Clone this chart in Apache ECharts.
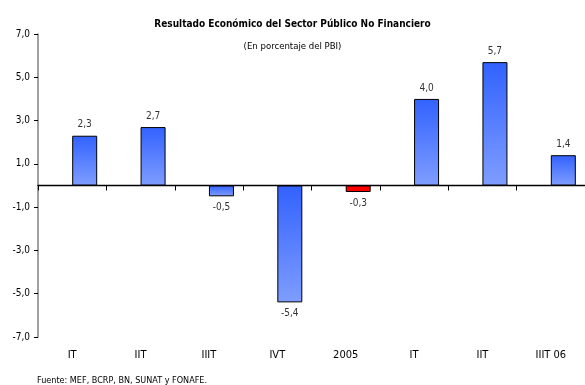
<!DOCTYPE html>
<html>
<head>
<meta charset="utf-8">
<script src="https://cdn.jsdelivr.net/npm/echarts@6/dist/echarts.min.js"></script>
<style>
  html, body { margin: 0; padding: 0; background: #fff; }
  #chart { width: 585px; height: 385px; }
</style>
</head>
<body>
<div id="chart"></div>
<script>
// Quarterly fiscal result of the non-financial public sector (% of GDP)
const categories = ['IT', 'IIT', 'IIIT', 'IVT', '2005', 'IT', 'IIT', 'IIIT 06'];
const values = [2.3, 2.7, -0.5, -5.4, -0.3, 4.0, 5.7, 1.4];
const highlightIndex = 4; // annual 2005 figure, drawn in red
const yTicks = { min: -7, max: 7, interval: 2 };

const FONT = "'Liberation Sans Narrow', 'DejaVu Sans Condensed', 'Liberation Sans', sans-serif";
const fmt = v => v.toFixed(1).replace('.', ',');

const blueFill = new echarts.graphic.LinearGradient(0, 0, 0, 1, [
  { offset: 0, color: '#3262ff' },
  { offset: 1, color: '#7f9dff' }
]);
const redFill = '#ff0000';

const chart = echarts.init(document.getElementById('chart'), null, { renderer: 'canvas' });

chart.setOption({
  animation: false,
  textStyle: { fontFamily: FONT },
  title: [
    {
      text: 'Resultado Económico del Sector Público No Financiero',
      left: 'center', top: 14,
      textStyle: { fontFamily: FONT, fontSize: 10, fontWeight: 'bold', color: '#000' }
    },
    {
      text: '(En porcentaje del PBI)',
      left: 'center', top: 37,
      textStyle: { fontFamily: FONT, fontSize: 9.5, fontWeight: 'normal', color: '#000' }
    },
    {
      text: 'Fuente: MEF, BCRP, BN, SUNAT y FONAFE.',
      left: 32, top: 371,
      textStyle: { fontFamily: FONT, fontSize: 9, fontWeight: 'normal', color: '#000' }
    }
  ],
  grid: { left: 38, right: 0, top: 34, bottom: 48, containLabel: false },
  xAxis: [
    {
      type: 'category',
      data: categories,
      axisLine: { onZero: true, lineStyle: { color: '#000', width: 1.3 } },
      axisTick: { show: true, length: 5, lineStyle: { color: '#000' } },
      axisLabel: { show: false },
      splitLine: { show: false }
    },
    {
      type: 'category',
      data: categories,
      position: 'bottom',
      axisLine: { show: false, onZero: false },
      axisTick: { show: false },
      axisLabel: { show: true, margin: 13, fontFamily: FONT, fontSize: 11, color: '#000' },
      splitLine: { show: false }
    }
  ],
  yAxis: {
    type: 'value',
    min: yTicks.min, max: yTicks.max, interval: yTicks.interval,
    axisLine: { show: true, lineStyle: { color: '#808080', width: 1.5 } },
    axisTick: { show: true, length: 4, lineStyle: { color: '#000' } },
    axisLabel: {
      margin: 8, fontFamily: FONT, fontSize: 10, color: '#000',
      formatter: v => fmt(v)
    },
    splitLine: { show: false }
  },
  series: [
    {
      // empty slot that sits to the left of each bar
      type: 'bar',
      xAxisIndex: 0,
      data: categories.map(() => null),
      barWidth: 25,
      barGap: '0%',
      silent: true
    },
    {
      type: 'bar',
      xAxisIndex: 0,
      barWidth: 25,
      barGap: '0%',
      data: values.map((v, i) => ({
        value: v,
        itemStyle: { color: i === highlightIndex ? redFill : blueFill },
        label: { position: v >= 0 ? 'top' : 'bottom' }
      })),
      itemStyle: { borderColor: '#000', borderWidth: 1 },
      label: {
        show: true,
        distance: 6,
        fontFamily: FONT, fontSize: 10, color: '#333',
        formatter: p => fmt(p.value)
      }
    }
  ]
});
</script>
</body>
</html>
